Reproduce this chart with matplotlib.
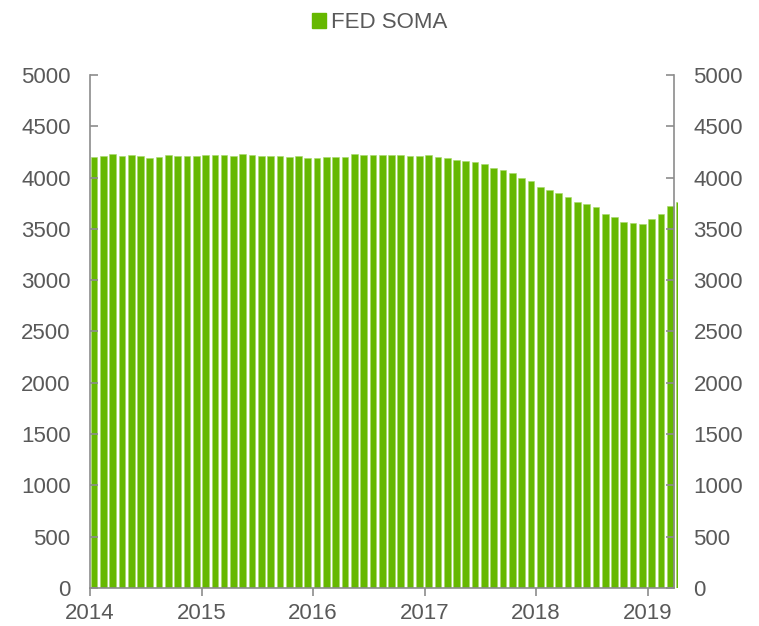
import matplotlib
matplotlib.use("Agg")
import matplotlib.pyplot as plt
from matplotlib.patches import Patch
import numpy as np

# monthly FED SOMA holdings, Jan 2014 .. Apr 2019
soma = [
    4198, 4210, 4227, 4214, 4220, 4210, 4194, 4198, 4220, 4210, 4214, 4214,
    4220, 4220, 4224, 4214, 4230, 4220, 4214, 4210, 4207, 4204, 4207, 4194,
    4191, 4201, 4197, 4201, 4227, 4220, 4220, 4220, 4217, 4217, 4214, 4214,
    4217, 4201, 4194, 4175, 4162, 4155, 4133, 4097, 4074, 4042, 3996, 3967,
    3912, 3879, 3853, 3814, 3762, 3743, 3710, 3642, 3616, 3564, 3558, 3545,
    3594, 3642, 3720, 3765,
]
years = ["2014", "2015", "2016", "2017", "2018", "2019"]
yticks = [0, 500, 1000, 1500, 2000, 2500, 3000, 3500, 4000, 4500, 5000]

green = "#66b800"
grey = "#8c8c8c"
textc = "#595959"

plt.rcParams["font.family"] = ["Liberation Sans", "DejaVu Sans"]

fig = plt.figure(figsize=(7.59, 6.26), dpi=100)
ax = fig.add_axes([0.1186, 0.0607, 0.7747, 0.8195])

x = np.arange(len(soma))
ax.bar(x + 0.07, soma, width=0.72, align="edge", color=green,
       edgecolor="#a6d96a", linewidth=0.4)

ax.set_xlim(0, 63.26)
ax.set_ylim(0, 5000)

ax.spines["top"].set_visible(False)
for s in ["left", "right", "bottom"]:
    ax.spines[s].set_color(grey)
    ax.spines[s].set_linewidth(1.2)
ax.spines["right"].set_position(("data", 62.83))
ax.spines["bottom"].set_bounds(0, 62.83)

ax.set_xticks(np.arange(len(years)) * 12)
ax.set_xticklabels(years)
ax.set_yticks(yticks)
ax.tick_params(axis="x", direction="out", length=6, width=1.2, color=grey,
               labelsize=16, labelcolor=textc, pad=5)
ax.tick_params(axis="y", direction="in", length=6, width=1.2, color=grey,
               labelsize=16, labelcolor=textc, pad=14,
               left=True, right=True, labelleft=True, labelright=True)

fig.legend(handles=[Patch(color=green, label="FED SOMA")],
           loc="upper center", bbox_to_anchor=(0.5, 1.012), frameon=False,
           fontsize=16, labelcolor=textc, handlelength=0.65,
           handleheight=0.65, handletextpad=0.2)

fig.savefig("out.png", dpi=100)
plt.close(fig)
